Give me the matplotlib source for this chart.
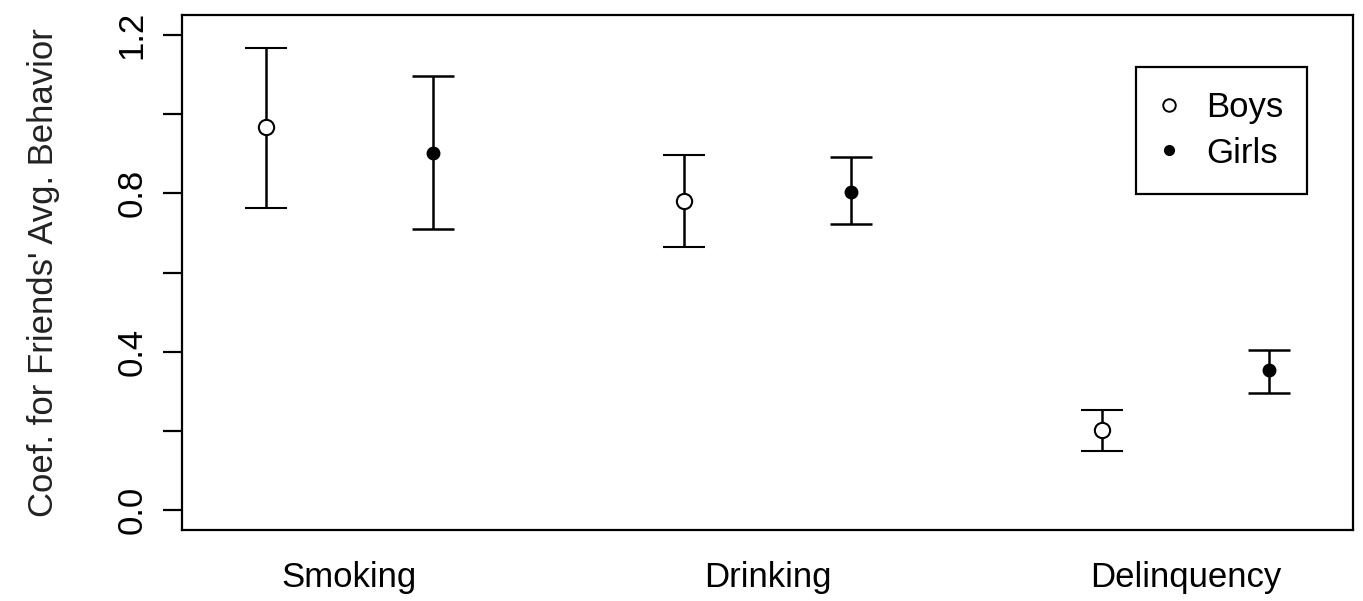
import numpy as np
from matplotlib import pyplot as plt
from matplotlib.lines import Line2D

plt.rcParams['font.family'] = ['Liberation Sans', 'DejaVu Sans']

behaviors = ['Smoking', 'Drinking', 'Delinquency']
boys_coef = [0.967, 0.781, 0.202]
boys_lo = [0.763, 0.664, 0.149]
boys_hi = [1.167, 0.897, 0.253]
girls_coef = [0.902, 0.803, 0.354]
girls_lo = [0.710, 0.722, 0.296]
girls_hi = [1.096, 0.892, 0.404]

pos = np.arange(1, len(behaviors) + 1)
off = 0.2

fig = plt.figure(figsize=(13.63, 6.01), dpi=100)
ax = fig.add_axes([0.1335, 0.118, 0.8592, 0.857])

b = np.array(boys_coef)
g = np.array(girls_coef)
ax.errorbar(pos - off, b, yerr=[b - np.array(boys_lo), np.array(boys_hi) - b],
            fmt='o', color='black', mfc='white', mec='black', ms=11, mew=1.5,
            elinewidth=1.8, capsize=15, capthick=1.8, zorder=3)
ax.errorbar(pos + off, g, yerr=[g - np.array(girls_lo), np.array(girls_hi) - g],
            fmt='o', color='black', mfc='black', mec='black', ms=9,
            elinewidth=1.8, capsize=15, capthick=1.8, zorder=3)

ax.set_xlim(0.6, 3.4)
ax.set_ylim(-0.05, 1.25)
ax.set_xticks(pos)
ax.set_xticklabels(behaviors, fontsize=25)
ax.tick_params(axis='x', length=0, pad=22)
ax.set_yticks([0.0, 0.2, 0.4, 0.6, 0.8, 1.0, 1.2])
ax.set_yticklabels(['0.0', '', '0.4', '', '0.8', '', '1.2'], fontsize=25,
                   rotation=90, va='center')
ax.tick_params(axis='y', length=14, width=1.6, pad=10)
ax.set_ylabel("Coef. for Friends' Avg. Behavior", fontsize=25, labelpad=40,
              color='#222222')
for s in ax.spines.values():
    s.set_linewidth(1.6)

handles = [Line2D([], [], ls='none', marker='o', mfc='white', mec='black', ms=9, mew=1.4),
           Line2D([], [], ls='none', marker='o', mfc='black', mec='black', ms=7)]
leg = ax.legend(handles, ['Boys', 'Girls'], loc='upper right',
                bbox_to_anchor=(0.961, 0.899), borderaxespad=0, fontsize=25,
                fancybox=False, edgecolor='black', framealpha=1,
                handlelength=0.5, handletextpad=0.8, labelspacing=0.35,
                borderpad=0.7)
leg.get_frame().set_linewidth(1.6)

fig.savefig('out.png', dpi=100)
